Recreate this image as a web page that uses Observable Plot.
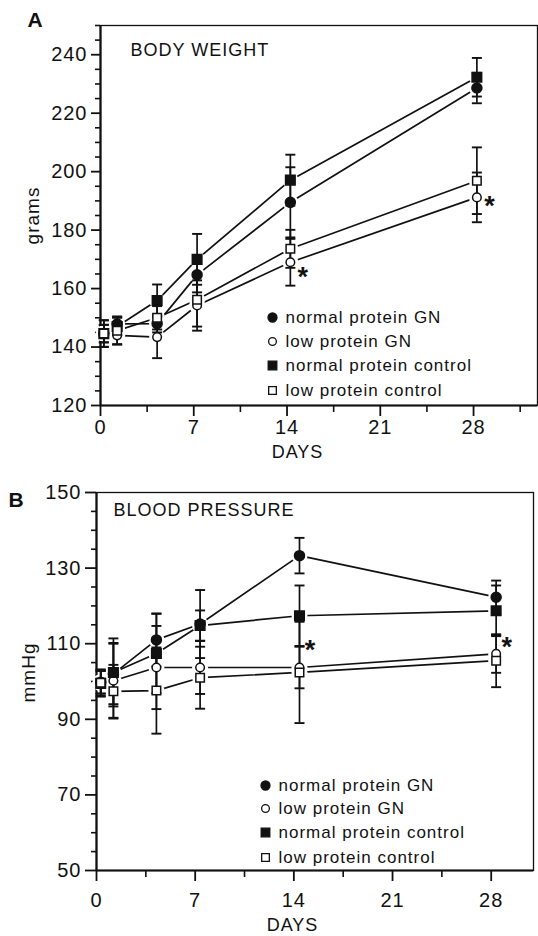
<!DOCTYPE html>
<html><head><meta charset="utf-8">
<script src="https://cdn.jsdelivr.net/npm/d3@7"></script>
<script src="https://cdn.jsdelivr.net/npm/@observablehq/plot@0.6"></script>
<style>
body{margin:0;background:#fff;}
#chart{width:538px;}
#chart svg{display:block;}
</style></head><body><div id="chart"></div>
<script>
// ---- data ----
const seriesNames = ["normal protein GN", "low protein GN", "normal protein control", "low protein control"];

// Panel A: body weight (grams)
const wtDays = [0.25, 1.25, 4.25, 7.25, 14.25, 28.25];
const wtNPGN = [144.6, 147.9, 148.0, 164.7, 189.5, 228.6];
const wtNPGNerr = [4.5, 2.5, 3, 6, 12, 5.2];
const wtLPGN = [144.6, 144.0, 143.4, 154.2, 169.0, 191.2];
const wtLPGNerr = [3, 3, 7.2, 8.6, 8, 8.5];
const wtNPC = [144.6, 147.0, 155.9, 170.0, 197.1, 232.3];
const wtNPCerr = [3, 3, 5.5, 8.7, 8.7, 6.6];
const wtLPC = [144.6, 145.6, 150.0, 156.2, 173.6, 196.9];
const wtLPCerr = [4.6, 4.8, 4, 9.2, 6.5, 11.4];
const wtStarDays = [14.25, 28.25];
const wtStarVals = [166.2, 190.5];
const wtMajor = [120, 140, 160, 180, 200, 220, 240];

// Panel B: blood pressure (mmHg)
const bpDays = [0.3, 1.2, 4.25, 7.35, 14.4, 28.35];
const bpNPGN = [99.8, 102.0, 111.0, 115.2, 133.3, 122.3];
const bpNPGNerr = [3, 8, 7, 9, 4.7, 4.4];
const bpLPGN = [99.8, 100.2, 103.7, 103.7, 103.7, 107.3];
const bpLPGNerr = [3, 10, 11, 7, 5.5, 5];
const bpNPC = [99.5, 102.4, 107.4, 114.8, 117.4, 118.7];
const bpNPCerr = [3.5, 9, 10.5, 4, 8, 6.7];
const bpLPC = [99.7, 97.4, 97.6, 101.0, 102.4, 105.5];
const bpLPCerr = [3.5, 7, 11.4, 8.2, 13.4, 7];
const bpStarDays = [14.4, 28.35];
const bpStarVals = [110.0, 110.8];
const bpMajor = [50, 70, 90, 110, 130, 150];

const dayTicks = [0, 7, 14, 21, 28];

// ---- helpers ----
const ink = "#111";
const capSymbol = {
  draw(ctx, size) {
    const w = Math.sqrt(size / Math.PI);
    ctx.moveTo(-w, 0); ctx.lineTo(w, 0);
  }
};
const styles = [
  {symbol: "circle", fill: ink, r: 5},
  {symbol: "circle", fill: "white", r: 4.3},
  {symbol: "square", fill: ink, r: 5.4},
  {symbol: "square", fill: "white", r: 4.8}
];

function rows(days, vals, errs) {
  const out = [];
  vals.forEach((v, si) => days.forEach((d, i) => out.push({day: d, value: v[i], err: errs[si][i], series: seriesNames[si], si})));
  return out;
}

function panel(o) {
  const data = rows(o.days, o.vals, o.errs);
  const [x0, x1] = o.xDomain, [y0, y1] = o.yDomain;
  const minorY = d3.range(y0, y1 + 0.01, 5).filter(v => !o.major.includes(v));
  const minorX = d3.range(3.5, x1, 7);
  const marks = [
    Plot.frame({stroke: ink, strokeWidth: 1.3}),
    Plot.ruleX([x0], {stroke: ink, strokeWidth: 2.2}),
    Plot.ruleY([y0], {stroke: ink, strokeWidth: 2.2}),
    Plot.axisY(o.major, {tickSize: o.yTickSize, tickPadding: 4, fontSize: 20, label: null, stroke: ink, strokeWidth: 1.8, fill: ink}),
    Plot.axisY(minorY, {tickSize: 5, tickFormat: () => "", label: null, stroke: ink, strokeWidth: 1.6}),
    Plot.axisX(dayTicks, {tickSize: 11, tickPadding: o.xPad, fontSize: 20, label: null, stroke: ink, strokeWidth: 1.8, fill: ink}),
    Plot.axisX(minorX, {tickSize: 7, tickFormat: () => "", label: null, stroke: ink, strokeWidth: 1.6}),
    Plot.line(data, {x: "day", y: "value", z: "series", stroke: ink, strokeWidth: 1.7}),
    Plot.dot(data, {x: "day", y: "value", r: 8, fill: "white"}),
    Plot.ruleX(data, {x: "day", y1: d => d.value - d.err, y2: d => d.value + d.err, stroke: ink, strokeWidth: 1.7}),
    Plot.dot(data, {x: "day", y: d => d.value + d.err, symbol: capSymbol, r: 5, fill: "none", stroke: ink, strokeWidth: 1.9}),
    Plot.dot(data, {x: "day", y: d => d.value - d.err, symbol: capSymbol, r: 5, fill: "none", stroke: ink, strokeWidth: 1.9})
  ];
  styles.forEach((s, si) => {
    marks.push(Plot.dot(data.filter(d => d.si === si), {x: "day", y: "value", symbol: s.symbol, r: s.r, fill: s.fill, stroke: ink, strokeWidth: 1.5}));
  });
  // asterisks
  marks.push(Plot.text(o.starDays.map((d, i) => ({d, v: o.starVals[i]})), {x: "d", y: "v", text: () => "*", dx: o.starDx, dy: 7, fontSize: 27, fontWeight: "bold", fill: ink}));
  // title inside frame
  marks.push(Plot.text([o.title], {frameAnchor: "top-left", dx: o.titleDx, dy: o.titleDy, textAnchor: "start", lineAnchor: "middle", fontSize: 18, fill: ink}));
  // panel letter
  marks.push(Plot.text([o.letter], {frameAnchor: "top-left", dx: o.letterDx, dy: o.letterDy, textAnchor: "middle", lineAnchor: "middle", fontSize: 21, fontWeight: "bold", fill: ink}));
  // y label
  marks.push(Plot.text([o.yLabel], {frameAnchor: "left", dx: o.yLabelDx, dy: o.yLabelDy, rotate: -90, textAnchor: "middle", lineAnchor: "middle", fontSize: 19, fill: ink}));
  // x label
  marks.push(Plot.text(["DAYS"], {frameAnchor: "bottom-left", dx: o.daysDx, dy: o.daysDy, textAnchor: "middle", lineAnchor: "middle", fontSize: 18, fill: ink}));
  // legend
  styles.forEach((s, si) => {
    const dy = o.legendDy[si];
    marks.push(Plot.dot([0], {frameAnchor: "bottom-left", dx: o.legendDx, dy, symbol: s.symbol, r: s.r * 0.9, fill: s.fill, stroke: ink, strokeWidth: 1.3}));
    marks.push(Plot.text([seriesNames[si]], {frameAnchor: "bottom-left", dx: o.legendDx + 13, dy, textAnchor: "start", lineAnchor: "middle", fontSize: 17, fill: ink}));
  });
  return Plot.plot({
    width: 538, height: o.height,
    marginLeft: o.ml, marginRight: o.mr, marginTop: o.mt, marginBottom: o.mb,
    x: {domain: o.xDomain},
    y: {domain: o.yDomain},
    style: {fontFamily: "Liberation Sans, Arial, sans-serif", letterSpacing: "1px", background: "white", color: ink},
    marks
  });
}

const chart = document.getElementById("chart");
chart.append(panel({
  days: wtDays, vals: [wtNPGN, wtLPGN, wtNPC, wtLPC], errs: [wtNPGNerr, wtLPGNerr, wtNPCerr, wtLPCerr],
  xDomain: [0, 32.8], yDomain: [120, 250], major: wtMajor, yTickSize: 9, xPad: 3,
  starDays: wtStarDays, starVals: wtStarVals, starDx: 13,
  title: "BODY WEIGHT", titleDx: 30, titleDy: 25,
  letter: "A", letterDx: -65, letterDy: -5,
  yLabel: "grams", yLabelDx: -68, yLabelDy: 0,
  daysDx: 197, daysDy: 47,
  legendDx: 172, legendDy: [-88, -64, -40, -15],
  height: 470, ml: 100, mr: 1, mt: 25, mb: 65
}));
chart.append(panel({
  days: bpDays, vals: [bpNPGN, bpLPGN, bpNPC, bpLPC], errs: [bpNPGNerr, bpLPGNerr, bpNPCerr, bpLPCerr],
  xDomain: [0, 31], yDomain: [50, 150], major: bpMajor, yTickSize: 11, xPad: 11,
  starDays: bpStarDays, starVals: bpStarVals, starDx: 11,
  title: "BLOOD PRESSURE", titleDx: 17, titleDy: 18,
  letter: "B", letterDx: -80, letterDy: 8,
  yLabel: "mmHg", yLabelDx: -68, yLabelDy: -9,
  daysDx: 196, daysDy: 55,
  legendDx: 169, legendDy: [-85, -62, -38, -13],
  height: 466, ml: 96, mr: 5, mt: 22, mb: 66
}));
</script></body></html>
